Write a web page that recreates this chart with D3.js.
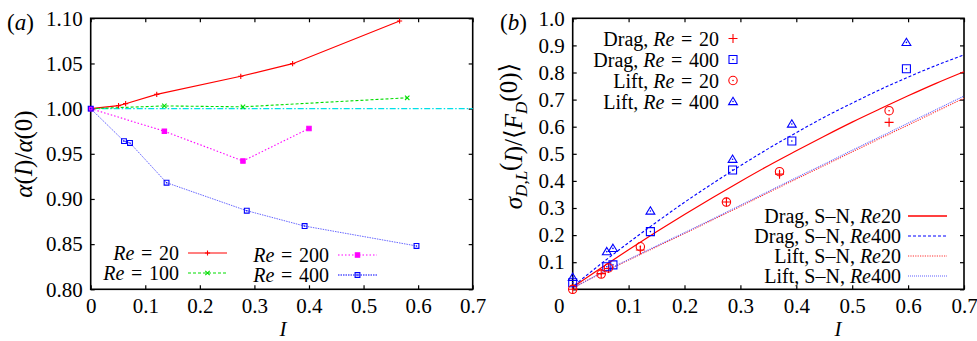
<!DOCTYPE html>
<html>
<head>
<meta charset="utf-8">
<script src="https://cdn.jsdelivr.net/npm/d3@7"></script>
<style>
  html, body { margin: 0; padding: 0; background: #fff; }
  svg { display: block; font-family: "Liberation Serif", "DejaVu Serif", serif; }
  .tick text { font-size: 21px; fill: #000; font-family: "Liberation Serif", "DejaVu Serif", serif; }
</style>
</head>
<body>
<svg id="chart" width="977" height="341"></svg>
<script>
// ---- Panel (a): alpha(I)/alpha(0) ----
const aTicksX = [0, 0.1, 0.2, 0.3, 0.4, 0.5, 0.6, 0.7];
const aTicksY = [0.80, 0.85, 0.90, 0.95, 1.00, 1.05, 1.10];

const I_re20 = [0, 0.051, 0.064, 0.121, 0.275, 0.370, 0.566];
const alpha_re20 = [1.000, 1.0033, 1.0055, 1.0158, 1.0358, 1.0498, 1.097];
const I_re100 = [0, 0.135, 0.279, 0.580];
const alpha_re100 = [1.000, 1.003, 1.002, 1.012];
const I_re200 = [0, 0.135, 0.279, 0.400];
const alpha_re200 = [1.000, 0.975, 0.942, 0.978];
const I_re400 = [0, 0.061, 0.072, 0.139, 0.286, 0.392, 0.597];
const alpha_re400 = [1.000, 0.964, 0.962, 0.918, 0.887, 0.870, 0.848];
const refI = [0, 0.7];
const refAlpha = [1.0, 1.0];

// ---- Panel (b): force fluctuations ----
const bTicksX = [0, 0.1, 0.2, 0.3, 0.4, 0.5, 0.6, 0.7];
const bTicksY = [0, 0.1, 0.2, 0.3, 0.4, 0.5, 0.6, 0.7, 0.8, 0.9, 1.0];

const I_b20 = [0, 0.051, 0.064, 0.121, 0.275, 0.370, 0.566];
const drag20 = [0.0, 0.058, 0.077, 0.145, 0.322, 0.425, 0.616];
const lift20 = [0.0, 0.056, 0.079, 0.157, 0.322, 0.434, 0.659];
const I_b400 = [0, 0.061, 0.072, 0.139, 0.286, 0.392, 0.597];
const drag400 = [0.024, 0.083, 0.090, 0.213, 0.440, 0.547, 0.814];
const lift400 = [0.044, 0.139, 0.151, 0.289, 0.480, 0.610, 0.911];

// S-N model curves
const snI = [0.003, 0.05, 0.1, 0.15, 0.2, 0.25, 0.3, 0.35, 0.4, 0.45, 0.5, 0.55, 0.6, 0.65, 0.7];
const snDrag20 = [0.012, 0.078, 0.146, 0.212, 0.276, 0.338, 0.398, 0.456, 0.511, 0.565, 0.617, 0.666, 0.714, 0.760, 0.803];
const snDrag400 = [0.015, 0.093, 0.172, 0.248, 0.321, 0.390, 0.456, 0.519, 0.578, 0.635, 0.687, 0.737, 0.783, 0.826, 0.865];
const snLift20 = [0.008, 0.058, 0.108, 0.157, 0.206, 0.256, 0.306, 0.357, 0.407, 0.457, 0.507, 0.557, 0.606, 0.656, 0.705];
const snLift400 = [0.008, 0.059, 0.110, 0.160, 0.209, 0.259, 0.310, 0.361, 0.412, 0.462, 0.513, 0.563, 0.613, 0.663, 0.713];

const svg = d3.select("#chart");
const zip = (xs, ys) => xs.map((x, i) => [x, ys[i]]);

// marker path builders (centered at 0,0)
const sym = {
  plus: s => `M${-s},0H${s}M0,${-s}V${s}`,
  cross: s => `M${-s},${-s}L${s},${s}M${-s},${s}L${s},${-s}`,
  square: s => `M${-s},${-s}H${s}V${s}H${-s}Z`,
  circle: s => `M${-s},0A${s},${s} 0 1,0 ${s},0A${s},${s} 0 1,0 ${-s},0Z`,
  triangle: s => `M0,${-s}L${s * 1.05},${s * 0.75}H${-s * 1.05}Z`
};

function frame(g, x, y, xt, yt, xfmt, yfmt) {
  const [x0, x1] = x.range(), [y0, y1] = y.range();
  g.append("g").attr("transform", `translate(0,${y0})`)
    .call(d3.axisBottom(x).tickValues(xt).tickFormat(xfmt).tickSizeInner(-4).tickSizeOuter(0).tickPadding(9))
    .call(a => a.select(".domain").remove());
  g.append("g").attr("transform", `translate(0,${y1})`)
    .call(d3.axisTop(x).tickValues(xt).tickFormat("").tickSizeInner(-4).tickSizeOuter(0))
    .call(a => a.select(".domain").remove());
  g.append("g").attr("transform", `translate(${x0},0)`)
    .call(d3.axisLeft(y).tickValues(yt).tickFormat(yfmt).tickSizeInner(-4).tickSizeOuter(0).tickPadding(8))
    .call(a => a.select(".domain").remove());
  g.append("g").attr("transform", `translate(${x1},0)`)
    .call(d3.axisRight(y).tickValues(yt).tickFormat("").tickSizeInner(-4).tickSizeOuter(0))
    .call(a => a.select(".domain").remove());
  g.selectAll(".tick line").attr("stroke", "#000").attr("stroke-width", 1.2);
  g.append("rect").attr("x", x0).attr("y", y1).attr("width", x1 - x0).attr("height", y0 - y1)
    .attr("fill", "none").attr("stroke", "#000").attr("stroke-width", 1.6);
}

function drawLine(g, pts, x, y, style, curve) {
  const line = d3.line().x(d => x(d[0])).y(d => y(d[1])).curve(curve || d3.curveLinear);
  g.append("path").datum(pts).attr("d", line).attr("fill", "none")
    .attr("stroke", style.color).attr("stroke-width", style.width || 1)
    .attr("stroke-dasharray", style.dash || null).attr("opacity", style.opacity || 1);
}

function drawMarks(g, pts, x, y, kind, size, color, opts = {}) {
  const m = g.append("g");
  pts.forEach(p => {
    const t = `translate(${x(p[0])},${y(p[1])})`;
    m.append("path").attr("transform", t).attr("d", sym[kind](size))
      .attr("fill", opts.fill || "none").attr("stroke", color).attr("stroke-width", opts.sw || 1.1);
    if (opts.dot) {
      m.append("circle").attr("transform", t).attr("r", 0.8).attr("fill", color);
    }
  });
}

function mathText(sel, parts) {
  parts.forEach(p => {
    const t = sel.append("tspan").text(p.t);
    if (p.i) t.attr("font-style", "italic");
    if (p.sub) t.attr("baseline-shift", p.sub).attr("font-size", p.fs);
  });
  return sel;
}

const EQ = "\u2004=\u2004";
const FS = 20;

// ================= Panel (a) =================
const ga = svg.append("g");
const xA = d3.scaleLinear().domain([0, 0.7]).range([90.7, 472.7]);
const yA = d3.scaleLinear().domain([0.8, 1.1]).range([289.3, 18.3]);
frame(ga, xA, yA, aTicksX, aTicksY, d => d === 0 ? "0" : d3.format(".1f")(d), d3.format(".2f"));

const cRed = "#ff0000", cGreen = "#00dd00", cMag = "#ff00ff", cBlue = "#0000ff", cCyan = "#00e0e8";

drawLine(ga, zip(refI, refAlpha), xA, yA, { color: cCyan, width: 1.1, dash: "6,2,1.5,2" });
drawLine(ga, zip(I_re20, alpha_re20), xA, yA, { color: cRed, width: 1.1 });
drawLine(ga, zip(I_re100, alpha_re100), xA, yA, { color: cGreen, width: 1.1, dash: "3,2" });
drawLine(ga, zip(I_re200, alpha_re200), xA, yA, { color: cMag, width: 1.1, dash: "1.5,2" });
drawLine(ga, zip(I_re400, alpha_re400), xA, yA, { color: "#4040ff", width: 1, dash: "1.5,1", opacity: 0.8 });
drawMarks(ga, zip(I_re20, alpha_re20), xA, yA, "plus", 2.6, cRed);
drawMarks(ga, zip(I_re100, alpha_re100), xA, yA, "cross", 2.2, cGreen);
drawMarks(ga, zip(I_re200, alpha_re200), xA, yA, "square", 2.2, cMag, { fill: cMag });
drawMarks(ga, zip(I_re400, alpha_re400), xA, yA, "square", 2.4, cBlue, { dot: true });

// legend (a)
const legA = [
  { lbl: "20", tx: 179, y: 253, x0: 188, x1: 227, c: cRed, dash: null, mk: "plus", ms: 2.6, fill: null },
  { lbl: "100", tx: 179, y: 273, x0: 188, x1: 227, c: cGreen, dash: "3,2", mk: "cross", ms: 2.2, fill: null },
  { lbl: "200", tx: 329, y: 255, x0: 338, x1: 377, c: cMag, dash: "1.5,2", mk: "square", ms: 2.2, fill: cMag },
  { lbl: "400", tx: 329, y: 275, x0: 338, x1: 377, c: cBlue, dash: "1.5,1", mk: "square", ms: 2.4, fill: null, dot: true }
];
legA.forEach(e => {
  const t = ga.append("text").attr("x", e.tx).attr("y", e.y + 7).attr("text-anchor", "end").attr("font-size", FS);
  mathText(t, [{ t: "Re", i: true }, { t: EQ + e.lbl }]);
  ga.append("line").attr("x1", e.x0).attr("x2", e.x1).attr("y1", e.y).attr("y2", e.y)
    .attr("stroke", e.c).attr("stroke-width", 1.2).attr("stroke-dasharray", e.dash);
  const mx = (e.x0 + e.x1) / 2;
  ga.append("path").attr("transform", `translate(${mx},${e.y})`).attr("d", sym[e.mk](e.ms))
    .attr("fill", e.fill || "none").attr("stroke", e.c).attr("stroke-width", 1.1);
  if (e.dot) ga.append("circle").attr("cx", mx).attr("cy", e.y).attr("r", 0.8).attr("fill", e.c);
});

// labels (a)
mathText(ga.append("text").attr("x", 7).attr("y", 30).attr("font-size", 23),
  [{ t: "(" }, { t: "a", i: true }, { t: ")" }]);
mathText(ga.append("text").attr("transform", "translate(32,154) rotate(-90)").attr("text-anchor", "middle").attr("font-size", 25),
  [{ t: "α", i: true }, { t: "(" }, { t: "I", i: true }, { t: ")/" }, { t: "α", i: true }, { t: "(0)" }]);
ga.append("text").attr("x", 283).attr("y", 336).attr("text-anchor", "middle").attr("font-size", 21)
  .attr("font-style", "italic").text("I");

// ================= Panel (b) =================
const gb = svg.append("g");
const xB = d3.scaleLinear().domain([0, 0.7]).range([572.7, 964]);
const yB = d3.scaleLinear().domain([0, 1]).range([289.3, 18.3]);
frame(gb, xB, yB, bTicksX, bTicksY, d => d === 0 ? "0" : d3.format(".1f")(d), d => d === 0 ? "" : d3.format(".1f")(d));
// the "0" on the x axis sits to the left of the corner
gb.selectAll(".tick text").filter(function () { return this.textContent === "0"; }).attr("x", -14);

const lineRed = "#ff0000", lineBlue = "#0000ff";
drawLine(gb, zip(snI, snLift20), xB, yB, { color: "#ff3030", width: 1.1, dash: "1.2,1.2" }, d3.curveMonotoneX);
drawLine(gb, zip(snI, snLift400), xB, yB, { color: "#6060ff", width: 1.1, dash: "1,1" }, d3.curveMonotoneX);
drawLine(gb, zip(snI, snDrag20), xB, yB, { color: lineRed, width: 1.2 }, d3.curveMonotoneX);
drawLine(gb, zip(snI, snDrag400), xB, yB, { color: lineBlue, width: 1.1, dash: "3,2" }, d3.curveMonotoneX);

drawMarks(gb, zip(I_b20, drag20), xB, yB, "plus", 4.5, cRed);
drawMarks(gb, zip(I_b400, drag400), xB, yB, "square", 4, cBlue, { dot: true });
drawMarks(gb, zip(I_b20, lift20), xB, yB, "circle", 4.2, cRed, { dot: true });
drawMarks(gb, zip(I_b400, lift400), xB, yB, "triangle", 4.2, cBlue, { dot: true });

// legend (b), markers
const legB1 = [
  { a: "Drag, ", b: "20", y: 38.5, mk: "plus", ms: 4.5, c: cRed, dot: false },
  { a: "Drag, ", b: "400", y: 59.5, mk: "square", ms: 4, c: cBlue, dot: true },
  { a: "Lift, ", b: "20", y: 80.5, mk: "circle", ms: 4.2, c: cRed, dot: true },
  { a: "Lift, ", b: "400", y: 101.5, mk: "triangle", ms: 4.2, c: cBlue, dot: true }
];
legB1.forEach(e => {
  const t = gb.append("text").attr("x", 719).attr("y", e.y + 7).attr("text-anchor", "end").attr("font-size", FS);
  mathText(t, [{ t: e.a }, { t: "Re", i: true }, { t: EQ + e.b }]);
  gb.append("path").attr("transform", `translate(733,${e.y})`).attr("d", sym[e.mk](e.ms))
    .attr("fill", "none").attr("stroke", e.c).attr("stroke-width", 1.1);
  if (e.dot) gb.append("circle").attr("cx", 733).attr("cy", e.y).attr("r", 0.8).attr("fill", e.c);
});

// legend (b), model curves
const legB2 = [
  { a: "Drag, S–N, ", b: "20", y: 216, c: lineRed, dash: null, w: 1.3 },
  { a: "Drag, S–N, ", b: "400", y: 236, c: lineBlue, dash: "3,2", w: 1.2 },
  { a: "Lift, S–N, ", b: "20", y: 256, c: "#ff3030", dash: "1.2,1.2", w: 1.2 },
  { a: "Lift, S–N, ", b: "400", y: 276, c: "#6060ff", dash: "1,1", w: 1.2 }
];
legB2.forEach(e => {
  const t = gb.append("text").attr("x", 901).attr("y", e.y + 7).attr("text-anchor", "end").attr("font-size", FS);
  mathText(t, [{ t: e.a }, { t: "Re", i: true }, { t: e.b }]);
  gb.append("line").attr("x1", 908).attr("x2", 947).attr("y1", e.y).attr("y2", e.y)
    .attr("stroke", e.c).attr("stroke-width", e.w).attr("stroke-dasharray", e.dash);
});

// labels (b)
mathText(gb.append("text").attr("x", 500).attr("y", 30).attr("font-size", 23),
  [{ t: "(" }, { t: "b", i: true }, { t: ")" }]);
mathText(gb.append("text").attr("transform", "translate(522,136) rotate(-90)").attr("text-anchor", "middle").attr("font-size", 25),
  [{ t: "σ", i: true }, { t: "D,L", i: true, sub: "-5", fs: 17 }, { t: "(", sub: "5", fs: 25 }, { t: "I", i: true },
   { t: ")/⟨" }, { t: "F", i: true }, { t: "D", i: true, sub: "-5", fs: 17 }, { t: "(0)⟩", sub: "5", fs: 25 }]);
gb.append("text").attr("x", 838).attr("y", 336).attr("text-anchor", "middle").attr("font-size", 21)
  .attr("font-style", "italic").text("I");
</script>
</body>
</html>
